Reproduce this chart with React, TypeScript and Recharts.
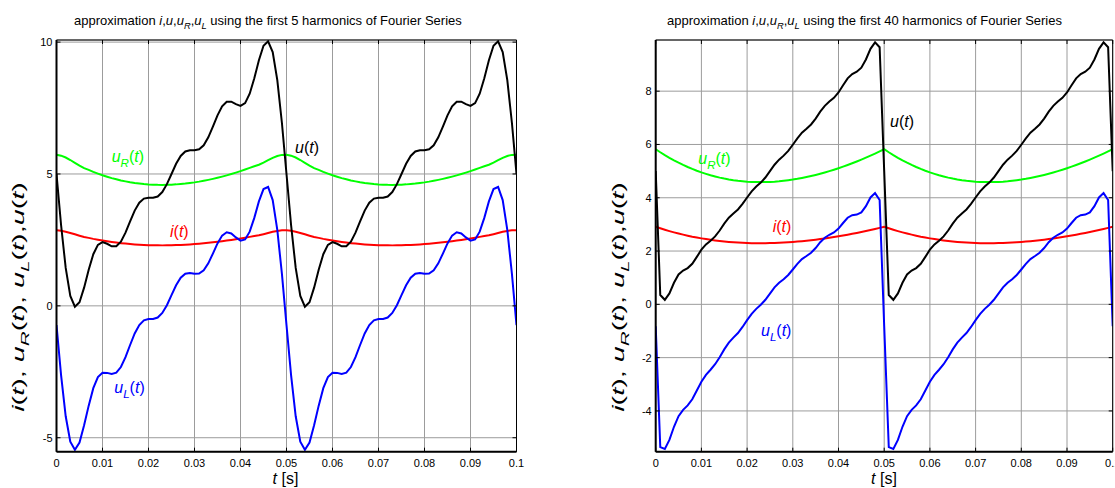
import React from 'react';
import { LineChart, Line, XAxis, YAxis, CartesianGrid } from 'recharts';

const FONT = '"Liberation Sans", Arial, Helvetica, sans-serif';

// Samples every 1 ms over one period T = 0.05 s (k = 0..50).
// The waveforms are periodic, the second period (0.05..0.1 s) repeats these values.

// ---- first 5 harmonics ----
const u5 = [5.0, 3.057, 1.438, 0.379, -0.031, 0.138, 0.69, 1.371, 1.958, 2.313, 2.418, 2.354, 2.258, 2.262, 2.436, 2.775, 3.203, 3.612, 3.912, 4.066, 4.101, 4.097, 4.146, 4.315, 4.615, 5.0, 5.385, 5.685, 5.854, 5.903, 5.899, 5.934, 6.088, 6.388, 6.797, 7.225, 7.564, 7.738, 7.742, 7.646, 7.582, 7.687, 8.042, 8.629, 9.31, 9.862, 10.031, 9.621, 8.562, 6.943, 5.0];
const i5 = [2.864, 2.847, 2.812, 2.765, 2.712, 2.659, 2.61, 2.577, 2.54, 2.507, 2.476, 2.448, 2.422, 2.399, 2.378, 2.36, 2.344, 2.33, 2.319, 2.309, 2.302, 2.297, 2.294, 2.293, 2.295, 2.298, 2.303, 2.31, 2.318, 2.329, 2.341, 2.355, 2.371, 2.388, 2.407, 2.428, 2.45, 2.474, 2.499, 2.526, 2.554, 2.584, 2.615, 2.647, 2.675, 2.717, 2.762, 2.806, 2.841, 2.862, 2.864];
const uR5 = [5.728, 5.694, 5.624, 5.53, 5.424, 5.318, 5.22, 5.154, 5.08, 5.014, 4.952, 4.896, 4.844, 4.798, 4.756, 4.72, 4.688, 4.66, 4.638, 4.618, 4.604, 4.594, 4.588, 4.586, 4.59, 4.596, 4.606, 4.62, 4.636, 4.658, 4.682, 4.71, 4.742, 4.776, 4.814, 4.856, 4.9, 4.948, 4.998, 5.052, 5.108, 5.168, 5.23, 5.294, 5.35, 5.434, 5.524, 5.612, 5.682, 5.724, 5.728];
const uL5 = [-0.728, -2.637, -4.186, -5.151, -5.455, -5.18, -4.53, -3.783, -3.122, -2.701, -2.534, -2.542, -2.586, -2.536, -2.32, -1.945, -1.485, -1.048, -0.726, -0.552, -0.503, -0.497, -0.442, -0.271, 0.025, 0.404, 0.779, 1.065, 1.218, 1.245, 1.217, 1.224, 1.346, 1.612, 1.983, 2.369, 2.664, 2.79, 2.744, 2.594, 2.474, 2.519, 2.812, 3.335, 3.96, 4.428, 4.507, 4.009, 2.88, 1.219, -0.728];

// ---- first 40 harmonics ----
const u40 = [5.0, 0.35, 0.17, 0.41, 0.81, 1.12, 1.27, 1.36, 1.52, 1.78, 2.05, 2.25, 2.39, 2.55, 2.77, 3.03, 3.25, 3.41, 3.56, 3.77, 4.01, 4.24, 4.42, 4.57, 4.76, 5.0, 5.24, 5.43, 5.58, 5.76, 5.99, 6.23, 6.44, 6.59, 6.75, 6.97, 7.23, 7.45, 7.61, 7.75, 7.95, 8.22, 8.48, 8.64, 8.73, 8.88, 9.19, 9.59, 9.83, 9.65, 5.0];
const i40 = [2.91, 2.853, 2.8, 2.749, 2.702, 2.657, 2.616, 2.577, 2.54, 2.507, 2.476, 2.448, 2.422, 2.399, 2.378, 2.36, 2.344, 2.33, 2.319, 2.309, 2.302, 2.297, 2.294, 2.293, 2.295, 2.298, 2.303, 2.31, 2.318, 2.329, 2.341, 2.355, 2.371, 2.388, 2.407, 2.428, 2.45, 2.474, 2.499, 2.526, 2.554, 2.584, 2.615, 2.647, 2.681, 2.716, 2.752, 2.79, 2.829, 2.869, 2.91];
const uR40 = [5.82, 5.707, 5.6, 5.499, 5.404, 5.315, 5.231, 5.153, 5.081, 5.014, 4.952, 4.896, 4.844, 4.798, 4.756, 4.72, 4.688, 4.66, 4.637, 4.619, 4.604, 4.595, 4.589, 4.587, 4.589, 4.595, 4.605, 4.619, 4.637, 4.658, 4.682, 4.71, 4.742, 4.777, 4.815, 4.856, 4.9, 4.948, 4.999, 5.052, 5.108, 5.168, 5.23, 5.294, 5.362, 5.432, 5.505, 5.58, 5.657, 5.737, 5.82];
const uL40 = [-0.82, -5.357, -5.43, -5.089, -4.594, -4.195, -3.961, -3.793, -3.561, -3.234, -2.902, -2.646, -2.454, -2.248, -1.986, -1.69, -1.438, -1.25, -1.077, -0.849, -0.594, -0.355, -0.169, -0.017, 0.171, 0.405, 0.635, 0.811, 0.943, 1.102, 1.308, 1.52, 1.698, 1.813, 1.935, 2.114, 2.33, 2.502, 2.611, 2.698, 2.842, 3.052, 3.25, 3.346, 3.368, 3.448, 3.685, 4.01, 4.173, 3.913, -0.82];

// ---- ticks ----
const xTicks = [0, 0.01, 0.02, 0.03, 0.04, 0.05, 0.06, 0.07, 0.08, 0.09, 0.1];
const xTickLabels = ['0', '0.01', '0.02', '0.03', '0.04', '0.05', '0.06', '0.07', '0.08', '0.09', '0.1'];
const yTicks5 = [-5, 0, 5, 10];
const yTickLabels5 = ['-5', '0', '5', '10'];
const yTicks40 = [-4, -2, 0, 2, 4, 6, 8];
const yTickLabels40 = ['-4', '-2', '0', '2', '4', '6', '8'];

function buildRows(u: number[], i: number[], uR: number[], uL: number[]) {
  const rows: any[] = [];
  for (let k = 0; k <= 100; k++) {
    const p = k <= 50 ? k : k - 50;
    rows.push({ t: k / 1000, u: u[p], i: i[p], uR: uR[p], uL: uL[p] });
  }
  return rows;
}

const data5 = buildRows(u5, i5, uR5, uL5);
const data40 = buildRows(u40, i40, uR40, uL40);

const H = 488;
const PT = 40;
const PB = 451.7;

type PanelProps = {
  svgLeft: number;
  svgWidth: number;
  plotL: number;
  plotR: number;
  data: any[];
  yDomain: [number, number];
  yTicks: number[];
  yLabels: string[];
};

function Panel({ svgLeft, svgWidth, plotL, plotR, data, yDomain, yTicks, yLabels }: PanelProps) {
  const lpL = plotL - svgLeft;
  const lpR = plotR - svgLeft;
  const margin = { top: PT - 1, bottom: H - PB - 30, left: lpL - 50, right: svgWidth - lpR - 1 };

  const bottomTick = (p: any) => (
    <g>
      <line x1={p.x} x2={p.x} y1={PB} y2={PB - 4} stroke="#000" strokeWidth={1} />
      <text x={p.x} y={PB + 15} textAnchor="middle" fontSize={11} fontFamily={FONT} fill="#000">
        {xTickLabels[xTicks.indexOf(p.payload.value)]}
      </text>
    </g>
  );
  const topTick = (p: any) => (
    <g>
      <line x1={p.x} x2={p.x} y1={PT} y2={PT + 4} stroke="#000" strokeWidth={1} />
    </g>
  );
  const leftTick = (p: any) => (
    <g>
      <line x1={lpL} x2={lpL + 4} y1={p.y} y2={p.y} stroke="#000" strokeWidth={1} />
      <text x={lpL - 4} y={p.y} dy="0.36em" textAnchor="end" fontSize={11} fontFamily={FONT} fill="#000">
        {yLabels[yTicks.indexOf(p.payload.value)]}
      </text>
    </g>
  );
  const rightTick = (p: any) => (
    <g>
      <line x1={lpR} x2={lpR - 4} y1={p.y} y2={p.y} stroke="#000" strokeWidth={1} />
    </g>
  );

  return (
    <div style={{ position: 'absolute', left: svgLeft, top: 0 }}>
      <LineChart width={svgWidth} height={H} data={data} margin={margin}>
        <CartesianGrid xAxisId="b" yAxisId="l" stroke="#9c9c9c" strokeWidth={1} />
        <XAxis
          xAxisId="b"
          dataKey="t"
          type="number"
          domain={[0, 0.1]}
          ticks={xTicks}
          interval={0}
          allowDataOverflow
          height={30}
          axisLine={{ stroke: '#000', strokeWidth: 2 }}
          tickLine={false}
          tick={bottomTick}
        />
        <XAxis
          xAxisId="top"
          orientation="top"
          dataKey="t"
          type="number"
          domain={[0, 0.1]}
          ticks={xTicks}
          interval={0}
          allowDataOverflow
          height={1}
          axisLine={{ stroke: '#000', strokeWidth: 1 }}
          tickLine={false}
          tick={topTick}
        />
        <YAxis
          yAxisId="l"
          type="number"
          domain={yDomain}
          ticks={yTicks}
          interval={0}
          allowDataOverflow
          width={50}
          axisLine={{ stroke: '#000', strokeWidth: 2 }}
          tickLine={false}
          tick={leftTick}
        />
        <YAxis
          yAxisId="r"
          orientation="right"
          type="number"
          domain={yDomain}
          ticks={yTicks}
          interval={0}
          allowDataOverflow
          width={1}
          axisLine={{ stroke: '#000', strokeWidth: 1 }}
          tickLine={false}
          tick={rightTick}
        />
        <Line xAxisId="b" yAxisId="l" type="linear" dataKey="i" stroke="#ff0000" strokeWidth={2} dot={false} isAnimationActive={false} />
        <Line xAxisId="b" yAxisId="l" type="linear" dataKey="uR" stroke="#00ff00" strokeWidth={2} dot={false} isAnimationActive={false} />
        <Line xAxisId="b" yAxisId="l" type="linear" dataKey="uL" stroke="#0000ff" strokeWidth={2} dot={false} isAnimationActive={false} />
        <Line xAxisId="b" yAxisId="l" type="linear" dataKey="u" stroke="#000000" strokeWidth={2} dot={false} isAnimationActive={false} />
      </LineChart>
    </div>
  );
}

function Sym({ x, y, base, sub, color, size = 16 }: { x: number; y: number; base: string; sub?: string; color: string; size?: number }) {
  return (
    <text x={x} y={y} fontSize={size} fontFamily={FONT} fill={color}>
      <tspan fontStyle="italic">{base}</tspan>
      {sub ? (
        <tspan fontStyle="italic" fontSize={size * 0.72} dy={size * 0.32}>
          {sub}
        </tspan>
      ) : null}
      <tspan dy={sub ? -size * 0.32 : 0}>(</tspan>
      <tspan fontStyle="italic">t</tspan>
      <tspan>)</tspan>
    </text>
  );
}

function Title({ x, y, n }: { x: number; y: number; n: number }) {
  const s = 13;
  return (
    <text x={x} y={y} fontSize={s} fontFamily={FONT} fill="#000">
      <tspan>approximation </tspan>
      <tspan fontStyle="italic">i</tspan>
      <tspan>,</tspan>
      <tspan fontStyle="italic">u</tspan>
      <tspan>,</tspan>
      <tspan fontStyle="italic">u</tspan>
      <tspan fontStyle="italic" fontSize={s * 0.72} dy={4}>R</tspan>
      <tspan dy={-4}>,</tspan>
      <tspan fontStyle="italic">u</tspan>
      <tspan fontStyle="italic" fontSize={s * 0.72} dy={4}>L</tspan>
      <tspan dy={-4}>{` using the first ${n} harmonics of Fourier Series`}</tspan>
    </text>
  );
}

function YLabel({ cx, cy }: { cx: number; cy: number }) {
  const s = 16;
  const d = s * 0.32;
  return (
    <text
      x={0}
      y={0}
      transform={`translate(${cx} ${cy}) rotate(-90) scale(1.8 1)`}
      textAnchor="middle"
      fontSize={s}
      fontFamily={FONT}
      fill="#000"
    >
      <tspan fontStyle="italic">i</tspan>
      <tspan>(</tspan>
      <tspan fontStyle="italic">t</tspan>
      <tspan>), </tspan>
      <tspan fontStyle="italic">u</tspan>
      <tspan fontStyle="italic" fontSize={s * 0.72} dy={d}>R</tspan>
      <tspan dy={-d}>(</tspan>
      <tspan fontStyle="italic">t</tspan>
      <tspan>), </tspan>
      <tspan fontStyle="italic">u</tspan>
      <tspan fontStyle="italic" fontSize={s * 0.72} dy={d}>L</tspan>
      <tspan dy={-d}>(</tspan>
      <tspan fontStyle="italic">t</tspan>
      <tspan>),</tspan>
      <tspan fontStyle="italic">u</tspan>
      <tspan>(</tspan>
      <tspan fontStyle="italic">t</tspan>
      <tspan>)</tspan>
    </text>
  );
}

function XLabel({ cx, y }: { cx: number; y: number }) {
  return (
    <text x={cx} y={y} textAnchor="middle" fontSize={16} fontFamily={FONT} fill="#000">
      <tspan fontStyle="italic">t</tspan>
      <tspan> [s]</tspan>
    </text>
  );
}

export default function App() {
  return (
    <div style={{ position: 'absolute', left: 0, top: 0, width: 1115, height: 488, background: '#fff', overflow: 'hidden' }}>
      <Panel svgLeft={0} svgWidth={560} plotL={56.5} plotR={516.5} data={data5} yDomain={[-5.53, 10.08]} yTicks={yTicks5} yLabels={yTickLabels5} />
      <Panel svgLeft={560} svgWidth={555} plotL={655.7} plotR={1112.7} data={data40} yDomain={[-5.53, 9.92]} yTicks={yTicks40} yLabels={yTickLabels40} />
      <svg width={1115} height={488} style={{ position: 'absolute', left: 0, top: 0, pointerEvents: 'none' }}>
        <Title x={74} y={25} n={5} />
        <Title x={667} y={25} n={40} />
        <YLabel cx={24} cy={297} />
        <YLabel cx={624} cy={297} />
        <XLabel cx={285.5} y={484} />
        <XLabel cx={884} y={484} />
        <Sym x={111.7} y={162} base="u" sub="R" color="#00ff00" />
        <Sym x={170} y={236.5} base="i" color="#ff0000" />
        <Sym x={295} y={153} base="u" color="#000000" />
        <Sym x={114.3} y={393.3} base="u" sub="L" color="#0000ff" />
        <Sym x={698.3} y={164.3} base="u" sub="R" color="#00ff00" />
        <Sym x={772.7} y={231.7} base="i" color="#ff0000" />
        <Sym x={761} y={336} base="u" sub="L" color="#0000ff" />
        <Sym x={890} y={127.3} base="u" color="#000000" />
      </svg>
    </div>
  );
}
